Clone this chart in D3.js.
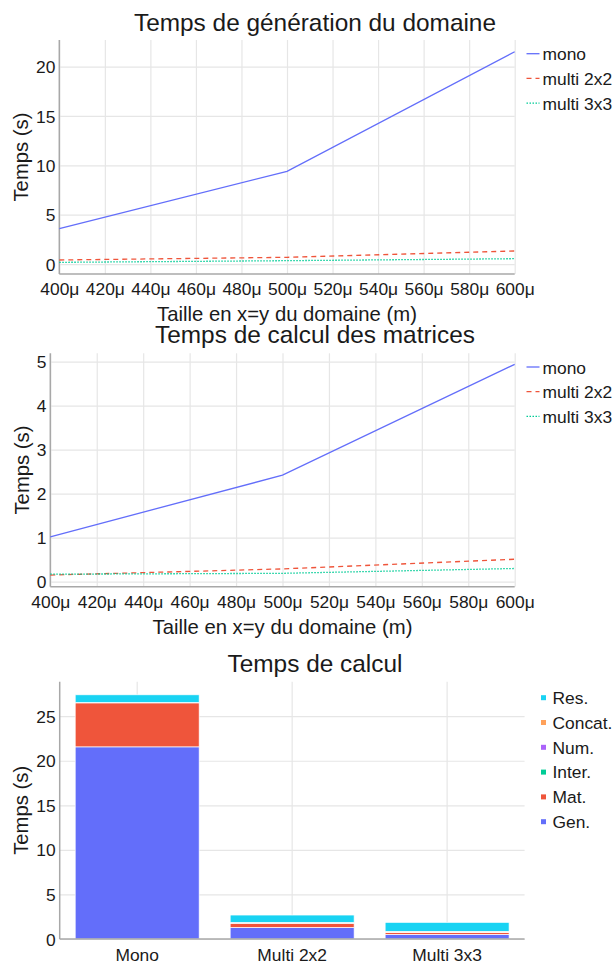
<!DOCTYPE html>
<html>
<head>
<meta charset="utf-8">
<script src="https://cdn.jsdelivr.net/npm/d3@7"></script>
<style>
  html, body { margin: 0; padding: 0; background: #fff; }
  svg { display: block; }
  text { font-family: "Liberation Sans", Arial, sans-serif; fill: #1a1a1a; }
</style>
</head>
<body>
<svg id="chart" width="616" height="962"></svg>
<script>
// ---------- data ----------
const domainSizes = [400e-6, 500e-6, 600e-6];
const xTickValues = [400e-6, 420e-6, 440e-6, 460e-6, 480e-6, 500e-6, 520e-6, 540e-6, 560e-6, 580e-6, 600e-6];
const lineSeriesNames = ["mono", "multi 2x2", "multi 3x3"];

const genMono = [3.58, 9.39, 21.5];
const genMulti2x2 = [0.41, 0.68, 1.32];
const genMulti3x3 = [0.17, 0.34, 0.54];

const matMono = [1.02, 2.42, 4.94];
const matMulti2x2 = [0.15, 0.29, 0.51];
const matMulti3x3 = [0.17, 0.19, 0.30];

const genYTicks = [0, 5, 10, 15, 20];
const matYTicks = [0, 1, 2, 3, 4, 5];

const barCategories = ["Mono", "Multi 2x2", "Multi 3x3"];
const stackNames = ["Gen.", "Mat.", "Inter.", "Num.", "Concat.", "Res."];
const barGen = [21.56, 1.30, 0.52];
const barMat = [4.94, 0.48, 0.20];
const barInter = [0.01, 0.01, 0.01];
const barNum = [0.01, 0.01, 0.01];
const barConcat = [0.02, 0.05, 0.12];
const barRes = [0.86, 0.84, 1.01];
const barYTicks = [0, 5, 10, 15, 20, 25];

// ---------- styles ----------
const lineColors = ["#636efa", "#EF553B", "#00cc96"];
const lineDash = [null, "5,4", "1.5,1.5"];
const stackColors = ["#636efa", "#EF553B", "#00cc96", "#ab63fa", "#FFA15A", "#19d3f3"];
const gridColor = "#e6e6e6";
const axisColor = "#a8a8a8";
const FS_TICK = 17.4, FS_LEG = 17.4, FS_AXT = 20.3, FS_TITLE = 24.4;
const FONT = '"Liberation Sans", Arial, sans-serif';

const svg = d3.select("#chart");
const fmt = d3.format("~s");
const xFmt = v => fmt(v).replace("µ", "μ");
const yFmt = d3.format("d");

function styleTickText(s) {
  s.style("font-size", FS_TICK + "px").attr("fill", "#1a1a1a").style("font-family", FONT);
}

function drawLineChart(cfg) {
  const g = svg.append("g");
  const x = d3.scaleLinear().domain([domainSizes[0], domainSizes[domainSizes.length - 1]]).range([cfg.left, cfg.right]);
  const y = d3.scaleLinear().domain(cfg.yDomain).range([cfg.bottom, cfg.top]);

  // grid
  g.append("g").attr("transform", `translate(0,${cfg.top})`)
    .call(d3.axisBottom(x).tickValues(xTickValues).tickSize(cfg.bottom - cfg.top).tickFormat(""))
    .call(s => s.select(".domain").remove())
    .call(s => s.selectAll("line").attr("stroke", gridColor).attr("stroke-width", 1.2));
  g.append("g").attr("transform", `translate(${cfg.left},0)`)
    .call(d3.axisRight(y).tickValues(cfg.yTicks).tickSize(cfg.right - cfg.left).tickFormat(""))
    .call(s => s.select(".domain").remove())
    .call(s => s.selectAll("line").attr("stroke", gridColor).attr("stroke-width", 1.2));

  // tick labels
  g.append("g").attr("transform", `translate(0,${cfg.bottom})`)
    .call(d3.axisBottom(x).tickValues(xTickValues).tickSize(0).tickFormat(xFmt))
    .call(s => s.select(".domain").remove())
    .call(s => s.selectAll("text").attr("y", 21).attr("dy", 0).call(styleTickText));
  g.append("g").attr("transform", `translate(${cfg.left},0)`)
    .call(d3.axisLeft(y).tickValues(cfg.yTicks).tickSize(0).tickPadding(4).tickFormat(yFmt))
    .call(s => s.select(".domain").remove())
    .call(s => s.selectAll("text").attr("dy", "0.35em").call(styleTickText));

  // axis lines
  g.append("line").attr("x1", cfg.left).attr("x2", cfg.left).attr("y1", cfg.top).attr("y2", cfg.bottom)
    .attr("stroke", axisColor).attr("stroke-width", 1.5);
  g.append("line").attr("x1", cfg.left).attr("x2", cfg.right).attr("y1", cfg.bottom).attr("y2", cfg.bottom)
    .attr("stroke", axisColor).attr("stroke-width", 1.5);

  // lines
  const line = d3.line().x((d, i) => x(domainSizes[i])).y(d => y(d));
  cfg.series.forEach((vals, k) => {
    g.append("path").datum(vals).attr("d", line).attr("fill", "none")
      .attr("stroke", lineColors[k]).attr("stroke-width", 1.3)
      .attr("stroke-dasharray", lineDash[k]);
  });

  // titles
  g.append("text").attr("x", 315).attr("y", cfg.titleY).attr("text-anchor", "middle")
    .style("font-size", FS_TITLE + "px").text(cfg.title);
  g.append("text").attr("x", (cfg.left + cfg.right) / 2).attr("y", cfg.bottom + 47).attr("text-anchor", "middle")
    .style("font-size", FS_AXT + "px").text("Taille en x=y du domaine (m)");
  g.append("text").attr("transform", `translate(${cfg.yTitleX},${(cfg.top + cfg.bottom) / 2}) rotate(-90)`)
    .attr("text-anchor", "middle").style("font-size", FS_AXT + "px").text("Temps (s)");

  // legend
  lineSeriesNames.forEach((name, k) => {
    const by = cfg.top + 20.2 + k * 24.7;
    g.append("line").attr("x1", 526.5).attr("x2", 539.5).attr("y1", by - 6.5).attr("y2", by - 6.5)
      .attr("stroke", lineColors[k]).attr("stroke-width", 1.3).attr("stroke-dasharray", lineDash[k]);
    g.append("text").attr("x", 542.5).attr("y", by).style("font-size", FS_LEG + "px").text(name);
  });
}

drawLineChart({
  top: 40, bottom: 274, left: 59.3, right: 514.7, yDomain: [-1.01, 22.69], yTicks: genYTicks,
  title: "Temps de génération du domaine", titleY: 30.5, yTitleX: 27.5,
  series: [genMono, genMulti2x2, genMulti3x3]
});
drawLineChart({
  top: 353.3, bottom: 586.7, left: 50.3, right: 514.7, yDomain: [-0.114, 5.19], yTicks: matYTicks,
  title: "Temps de calcul des matrices", titleY: 343.3, yTitleX: 28.5,
  series: [matMono, matMulti2x2, matMulti3x3]
});

// ---------- stacked bar chart ----------
(function () {
  const cfg = { top: 681.7, bottom: 939, left: 59.7, right: 524.6 };
  const g = svg.append("g");
  const rows = barCategories.map((c, i) => ({
    cat: c, "Gen.": barGen[i], "Mat.": barMat[i], "Inter.": barInter[i],
    "Num.": barNum[i], "Concat.": barConcat[i], "Res.": barRes[i]
  }));
  const stacked = d3.stack().keys(stackNames)(rows);
  const x = d3.scaleBand().domain(barCategories).range([cfg.left, cfg.right]).paddingInner(0.2).paddingOuter(0.1);
  const y = d3.scaleLinear().domain([0, 28.87]).range([cfg.bottom, cfg.top]);

  // grid
  g.append("g").attr("transform", `translate(0,${cfg.top})`)
    .call(d3.axisBottom(x).tickSize(cfg.bottom - cfg.top).tickFormat(""))
    .call(s => s.select(".domain").remove())
    .call(s => s.selectAll("line").attr("stroke", gridColor).attr("stroke-width", 1.2));
  g.append("g").attr("transform", `translate(${cfg.left},0)`)
    .call(d3.axisRight(y).tickValues(barYTicks).tickSize(cfg.right - cfg.left).tickFormat(""))
    .call(s => s.select(".domain").remove())
    .call(s => s.selectAll("line").attr("stroke", gridColor).attr("stroke-width", 1.2));

  // bars
  stacked.forEach((layer, k) => {
    g.append("g").selectAll("rect").data(layer).join("rect")
      .attr("x", d => x(d.data.cat)).attr("width", x.bandwidth())
      .attr("y", d => y(d[1])).attr("height", d => Math.max(0, y(d[0]) - y(d[1])))
      .attr("fill", stackColors[k]).attr("stroke", "#fff").attr("stroke-width", 0.7);
  });

  // tick labels
  g.append("g").attr("transform", `translate(0,${cfg.bottom})`)
    .call(d3.axisBottom(x).tickSize(0))
    .call(s => s.select(".domain").remove())
    .call(s => s.selectAll("text").attr("y", 22).attr("dy", 0).call(styleTickText));
  g.append("g").attr("transform", `translate(${cfg.left},0)`)
    .call(d3.axisLeft(y).tickValues(barYTicks).tickSize(0).tickPadding(4).tickFormat(yFmt))
    .call(s => s.select(".domain").remove())
    .call(s => s.selectAll("text").attr("dy", "0.35em").call(styleTickText));

  // axis lines
  g.append("line").attr("x1", cfg.left).attr("x2", cfg.left).attr("y1", cfg.top).attr("y2", cfg.bottom)
    .attr("stroke", axisColor).attr("stroke-width", 1.5);
  g.append("line").attr("x1", cfg.left).attr("x2", cfg.right).attr("y1", cfg.bottom).attr("y2", cfg.bottom)
    .attr("stroke", axisColor).attr("stroke-width", 1.5);

  // titles
  g.append("text").attr("x", 315).attr("y", 672.3).attr("text-anchor", "middle")
    .style("font-size", FS_TITLE + "px").text("Temps de calcul");
  g.append("text").attr("transform", `translate(27.5,${(cfg.top + cfg.bottom) / 2}) rotate(-90)`)
    .attr("text-anchor", "middle").style("font-size", FS_AXT + "px").text("Temps (s)");

  // legend (reversed order)
  stackNames.slice().reverse().forEach((name, i) => {
    const k = stackNames.indexOf(name);
    const cy = 697.7 + i * 24.8;
    g.append("rect").attr("x", 541).attr("y", cy - 2.5).attr("width", 5).attr("height", 5).attr("fill", stackColors[k]);
    g.append("text").attr("x", 552.5).attr("y", cy + 6.3).style("font-size", FS_LEG + "px").text(name);
  });
})();
</script>
</body>
</html>
